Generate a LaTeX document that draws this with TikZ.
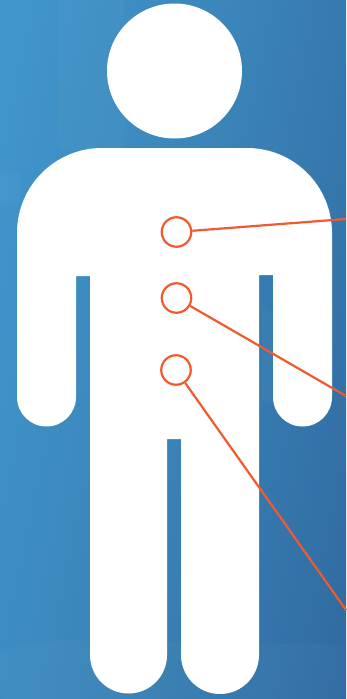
\documentclass[tikz,border=0pt]{standalone}
\usetikzlibrary{calc}
\definecolor{bgL}{HTML}{4299CF}
\definecolor{bgM}{HTML}{3A84B8}
\definecolor{bgR}{HTML}{2F689F}
\definecolor{mark}{HTML}{F25A2E}
\pgfdeclarehorizontalshading{bgshade}{100bp}{color(0bp)=(bgL); color(25bp)=(bgL); color(50bp)=(bgM); color(75bp)=(bgR); color(100bp)=(bgR)}
\tikzset{
  figure/.style={fill=white,draw=none},
  spot/.style={circle,draw=mark,line width=2.2pt,fill=none,minimum size=29.5pt,inner sep=0pt},
  lead/.style={draw=mark,line width=2.2pt},
  blob/.style={fill=white,opacity=0.025,rounded corners=6pt,draw=none}
}
\begin{document}
\begin{tikzpicture}[x=1pt,y=-1pt]
\useasboundingbox (0,0) rectangle (346,699);
\begin{scope}
\clip (0,0) rectangle (346,699);
\path[shading=bgshade,shading angle=-12] (-60,-60) rectangle (406,759);
\fill[blob] (58,0) rectangle (125,150);
\fill[blob] (0,172) rectangle (20,205);
\fill[blob] (262,308) rectangle (273,405);
\fill[blob] (0,650) -- (60,640) -- (346,645) -- (346,699) -- (0,699) -- cycle;
\end{scope}
\fill[figure] (174.5,71) circle[radius=67.5];
\fill[figure]
  (17,233) .. controls (17,186) and (55,148) .. (102,148)
  -- (247,148) .. controls (294,148) and (332,186) .. (332,233)
  -- (332,397) arc[start angle=0,end angle=180,radius=29.5]
  -- (273,275) -- (259,275) -- (259,655)
  arc[start angle=0,end angle=180,radius=39]
  -- (181,439) -- (167,439) -- (167,655)
  arc[start angle=0,end angle=180,radius=38.5]
  -- (90,276) -- (76,276) -- (76,397)
  arc[start angle=0,end angle=180,radius=29.5]
  -- cycle;
\node[spot] (upper) at (176.5,232) {};
\node[spot] (middle) at (176.5,298) {};
\node[spot] (lower) at (176,370) {};
\coordinate (upperEnd) at (346,219);
\coordinate (middleEnd) at (346,396);
\coordinate (lowerEnd) at (346,610);
\draw[lead] (upper) -- (upperEnd);
\draw[lead] (middle) -- (middleEnd);
\draw[lead] (lower) -- (lowerEnd);
\end{tikzpicture}
\end{document}
